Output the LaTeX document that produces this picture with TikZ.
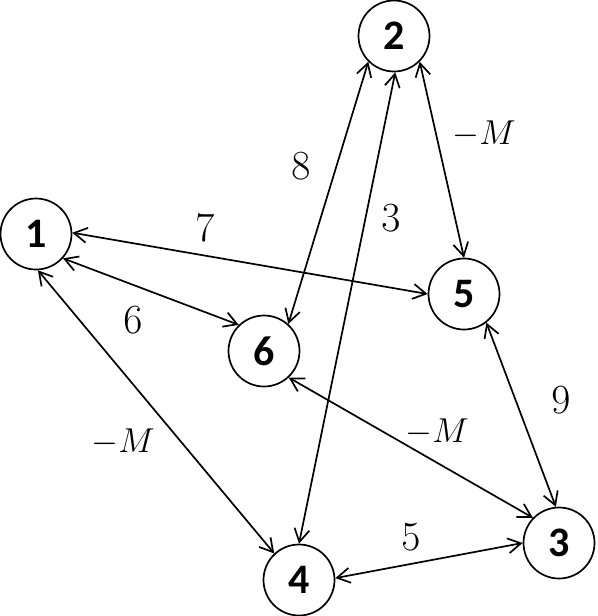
\documentclass[tikz,border=0pt]{standalone}
\usepackage{amsmath}
\usepackage{fontspec}
\usetikzlibrary{arrows.meta}
\newfontfamily\nodefont{Carlito}

\begin{document}
\begin{tikzpicture}[x=0.5pt,y=-0.5pt,
  vertex/.style={draw,circle,line width=0.85pt,inner sep=0pt,minimum size=35.5pt,
    font=\nodefont\fontsize{21}{21}\selectfont\bfseries},
  edge/.style={line width=0.85pt,{Straight Barb[length=6.5pt,width=7.5pt]}-{Straight Barb[length=6.5pt,width=7.5pt]}},
  weight/.style={font=\fontsize{20}{20}\selectfont}]
\useasboundingbox (0,0) rectangle (598,616);
% vertices
\node[vertex] (n1) at (36,234) {1};
\node[vertex] (n2) at (394,36) {2};
\node[vertex] (n3) at (559,543) {3};
\node[vertex] (n4) at (299,580) {4};
\node[vertex] (n5) at (464,294) {5};
\node[vertex] (n6) at (264,351) {6};
% edges
\draw[edge] (n1.2) -- (n5.180);
\draw[edge] (n1.-42) -- (n6.134);
\draw[edge] (n1.-87) -- (n4.133);
\draw[edge] (n2.225) -- (n6.48);
\draw[edge] (n2.-88) -- (n4.90);
\draw[edge] (n2.-45) -- (n5.90);
\draw[edge] (n5.-52) -- (n3.95);
\draw[edge] (n6.-47) -- (n3.136);
\draw[edge] (n4.3) -- (n3.180);
% weights
\node[weight] (w15) at (205,228) {$7$};
\node[weight] (w16) at (133,320) {$6$};
\node[weight] (w14) at (123,442) {\fontsize{18}{18}\selectfont$-M$};
\node[weight] (w26) at (301,166) {$8$};
\node[weight] (w24) at (391,218) {$3$};
\node[weight] (w25) at (484,134) {\fontsize{18}{18}\selectfont$-M$};
\node[weight] (w53) at (561,400) {$9$};
\node[weight] (w63) at (437,432) {\fontsize{18}{18}\selectfont$-M$};
\node[weight] (w43) at (411,537) {$5$};
\end{tikzpicture}
\end{document}
